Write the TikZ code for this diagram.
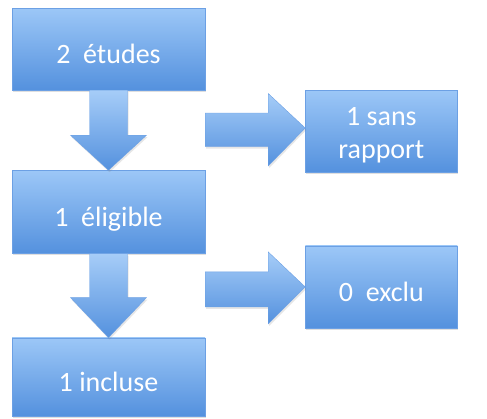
\documentclass[tikz,border=0pt]{standalone}
\usepackage{fontspec}
\setmainfont{Carlito}
\usetikzlibrary{positioning, calc, shadows}
\definecolor{boxtop}{RGB}{156,199,247}
\definecolor{boxbot}{RGB}{84,145,222}
\definecolor{boxline}{RGB}{108,160,228}
\tikzset{
  box/.style    = {minimum width=193pt, minimum height=82pt, align=center,
                   text height=29pt, text depth=0pt,
                   top color=boxtop, bottom color=boxbot, draw=boxline,
                   text=white, font=\fontsize{28}{33}\selectfont,
                   drop shadow={opacity=0.25, shadow xshift=1pt, shadow yshift=-2pt}},
  sbox/.style   = {box, minimum width=152pt},
  bigarr/.style = {top color=boxtop!90!white, bottom color=boxbot, draw=boxline,
                   drop shadow={opacity=0.2, shadow xshift=1pt, shadow yshift=-2pt}}
}
\begin{document}
\begin{tikzpicture}[x=1pt, y=-1pt]
  \useasboundingbox (0,0) rectangle (487,418);
  \node[box] (etudes) at (108.5,49) {2~ études};
  \node[box, minimum height=83pt, below=80pt of etudes] (eligible) {1~ éligible};
  \node[box, minimum height=78pt, below=84pt of eligible] (incluse) {1 incluse};
  \node[sbox, text height=54pt, right=100pt of etudes, yshift=-82pt] (rapport) {1 sans\\rapport};
  \node[sbox, right=100pt of eligible, yshift=-75pt] (exclu) {0~ exclu};
  % vertical arrows
  \shade[bigarr] ($(etudes.south)+(-19,0)$) -- ++(0,45) -- ++(-19,0) -- (eligible.north)
    -- ++(38,-35) -- ++(-19,0) -- ++(0,-45) -- cycle;
  \shade[bigarr] ($(eligible.south)+(-19,0)$) -- ++(0,44) -- ++(-19,0) -- (incluse.north)
    -- ++(38,-40) -- ++(-19,0) -- ++(0,-44) -- cycle;
  % side arrows
  \shade[bigarr] ($(rapport.west)+(-100,-18)$) -- ++(63,0) -- ++(0,-19.5) -- ($(rapport.west)+(0,-3)$)
    -- ++(-37,38) -- ++(0,-19.5) -- ++(-63,0) -- cycle;
  \shade[bigarr] ($(exclu.west)+(-100,-15)$) -- ++(63,0) -- ++(0,-20) -- (exclu.west)
    -- ++(-37,37) -- ++(0,-17) -- ++(-63,0) -- cycle;
\end{tikzpicture}
\end{document}
